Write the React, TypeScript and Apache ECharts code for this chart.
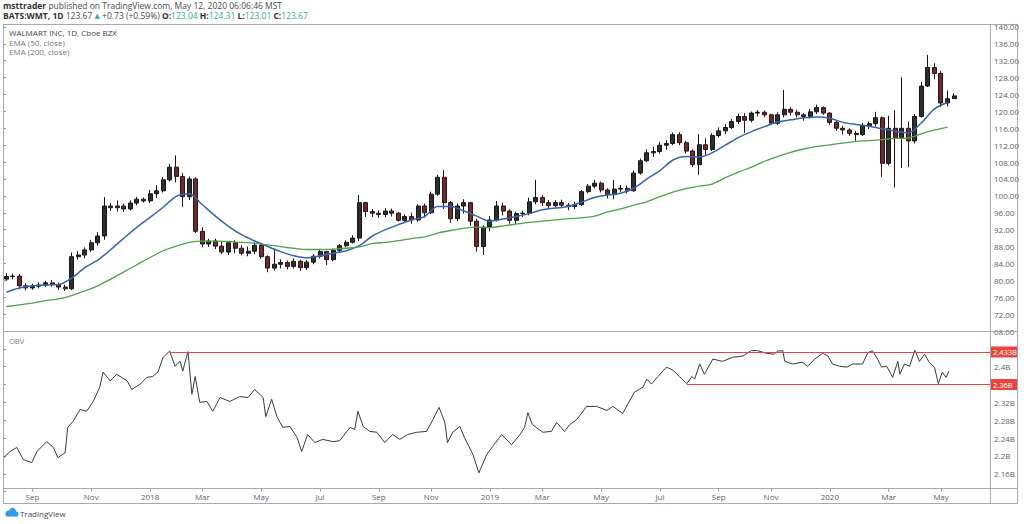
import React, { useEffect, useRef } from "react";
import * as echarts from "echarts";

const FONT = '"Open Sans", "Noto Sans", "DejaVu Sans", sans-serif';

// ---- categories: weekly bars starting Monday 2017-07-31 (146 bars + right padding)
const FIRST_MONDAY = "2017-07-31";
const WEEK_SLOTS = 151;
const MONTHS = ["Jan", "Feb", "Mar", "Apr", "May", "Jun", "Jul", "Aug", "Sep", "Oct", "Nov", "Dec"];

// ---- weekly OHLC, [open, close, low, high]
const ohlc2017 = [
  [80.3, 80.9, 79.9, 81.7], [80.9, 81.0, 80.2, 81.6], [81.0, 78.7, 77.9, 81.5], [78.7, 78.2, 77.6, 79.4],
  [78.2, 78.6, 77.8, 79.2], [78.6, 78.9, 78.1, 79.5], [78.9, 79.4, 78.4, 79.9], [79.4, 79.0, 78.5, 80.0],
  [79.0, 78.4, 77.7, 79.5], [78.4, 78.0, 77.5, 79.0], [78.0, 85.6, 77.7, 86.6], [85.6, 86.0, 84.9, 86.9],
  [86.0, 87.2, 85.2, 87.8], [87.2, 88.9, 86.8, 89.6], [88.9, 90.5, 88.2, 91.4], [90.5, 97.6, 89.6, 99.7],
  [97.6, 97.2, 96.4, 98.3], [97.2, 97.6, 96.3, 98.9], [97.6, 96.9, 96.2, 98.2], [96.9, 98.3, 96.5, 98.9],
  [98.3, 99.2, 97.8, 99.8], [99.2, 98.8, 98.4, 99.6],
];
const ohlc2018 = [
  [98.8, 100.5, 98.3, 101.4], [100.5, 101.2, 99.5, 102.5], [101.2, 103.8, 100.8, 104.5], [103.8, 106.8, 103.4, 107.6],
  [106.8, 104.6, 103.2, 109.6], [104.6, 99.8, 97.4, 105.4], [99.8, 104.0, 99.0, 104.6], [104.0, 91.6, 91.2, 104.4],
  [91.6, 88.6, 87.8, 92.6], [88.6, 89.3, 87.9, 89.8], [89.3, 88.1, 87.4, 89.9], [88.1, 86.7, 86.2, 89.3],
  [86.7, 88.9, 86.0, 89.2], [88.9, 87.6, 86.4, 89.5], [87.6, 86.4, 85.9, 88.3], [86.4, 86.9, 85.7, 88.0],
  [86.9, 88.3, 86.2, 88.9], [88.3, 85.6, 85.1, 88.8], [85.6, 82.9, 81.9, 85.9], [82.9, 83.8, 82.3, 87.5],
  [83.8, 84.2, 82.8, 85.0], [84.2, 83.3, 82.6, 84.7], [83.3, 84.5, 82.8, 85.2], [84.5, 83.0, 82.2, 84.9],
  [83.0, 84.3, 82.4, 84.8], [84.3, 85.7, 83.8, 86.2], [85.7, 86.8, 85.2, 87.3], [86.8, 84.9, 83.6, 87.0],
  [84.9, 87.1, 84.5, 87.5], [87.1, 88.2, 86.7, 88.6], [88.2, 89.0, 87.8, 89.5], [89.0, 90.0, 88.7, 90.7],
  [90.0, 98.4, 89.3, 100.2], [98.4, 96.3, 95.0, 98.6], [96.3, 95.9, 95.0, 96.9], [95.9, 95.6, 94.8, 96.6],
  [95.6, 96.4, 95.0, 97.1], [96.4, 95.9, 95.1, 97.0], [95.9, 94.2, 93.9, 96.2], [94.2, 95.1, 93.8, 95.6],
  [95.1, 94.3, 93.4, 96.0], [94.3, 97.6, 93.9, 98.0], [97.6, 96.0, 94.8, 98.2], [96.0, 100.4, 95.7, 101.0],
  [100.4, 104.4, 100.0, 105.0], [104.4, 98.4, 96.9, 106.1], [98.4, 94.6, 93.6, 98.8], [94.6, 97.6, 94.0, 98.2],
  [97.6, 98.4, 95.8, 99.2], [98.4, 94.0, 92.9, 98.6], [94.0, 88.0, 86.8, 94.6], [88.0, 92.6, 86.0, 93.0],
  [92.6, 94.3, 91.6, 95.2],
];
const ohlc2019 = [
  [94.3, 97.6, 93.9, 98.8], [97.6, 96.4, 95.4, 98.4], [96.4, 94.2, 93.4, 96.8], [94.2, 95.8, 93.3, 96.3],
  [95.8, 95.9, 95.0, 96.5], [95.9, 98.6, 95.4, 99.6], [98.6, 99.6, 98.0, 103.8], [99.6, 98.4, 97.6, 100.2],
  [98.4, 97.7, 97.0, 99.0], [97.7, 98.4, 97.3, 99.0], [98.4, 97.8, 97.2, 99.1], [97.8, 97.5, 96.6, 98.3],
  [97.5, 97.9, 96.8, 98.6], [97.9, 101.0, 97.6, 101.4], [101.0, 102.3, 100.6, 102.8], [102.3, 103.0, 101.8, 103.8],
  [103.0, 101.4, 100.8, 103.4], [101.4, 100.3, 99.4, 101.8], [100.3, 101.6, 99.2, 103.8], [101.6, 101.8, 100.9, 102.6],
  [101.8, 101.2, 100.6, 102.5], [101.2, 105.4, 101.0, 106.0], [105.4, 108.3, 105.0, 108.8], [108.3, 110.2, 108.0, 111.0],
  [110.2, 110.5, 109.2, 111.6], [110.5, 112.0, 110.0, 112.8], [112.0, 112.4, 110.9, 113.2], [112.4, 114.5, 112.0, 115.0],
  [114.5, 112.6, 112.0, 115.1], [112.6, 110.6, 110.0, 113.0], [110.6, 107.4, 106.8, 111.0], [107.4, 112.1, 105.0, 114.6],
  [112.1, 111.0, 109.6, 113.6], [111.0, 114.3, 110.6, 114.8], [114.3, 115.4, 113.8, 116.2], [115.4, 116.2, 114.6, 117.0],
  [116.2, 117.6, 115.8, 118.2], [117.6, 118.8, 117.0, 119.5], [118.8, 117.9, 114.9, 119.6], [117.9, 119.6, 117.4, 120.0],
  [119.6, 119.8, 118.8, 120.3], [119.8, 119.2, 118.6, 120.2], [119.2, 117.2, 116.8, 119.5], [117.2, 119.2, 116.8, 119.8],
  [119.2, 120.5, 118.6, 125.1], [120.5, 119.8, 119.0, 121.0], [119.8, 119.2, 118.6, 120.3], [119.2, 118.8, 117.8, 119.6],
  [118.8, 119.9, 118.3, 120.6], [119.9, 120.9, 119.4, 121.6], [120.9, 119.6, 119.2, 121.2], [119.6, 117.4, 116.8, 119.8],
];
const ohlc2020 = [
  [117.4, 116.0, 115.4, 118.0], [116.0, 115.6, 114.5, 116.6], [115.6, 114.8, 114.2, 116.0], [114.8, 114.5, 112.8, 115.4],
  [114.5, 116.6, 114.2, 117.3], [116.6, 117.1, 115.8, 117.6], [117.1, 118.5, 116.4, 119.9], [118.5, 107.7, 104.5, 118.8],
  [107.7, 116.0, 107.2, 119.0], [116.0, 113.6, 102.0, 120.3], [113.6, 116.0, 106.6, 128.1], [116.0, 113.0, 106.8, 117.6],
  [113.0, 118.8, 112.4, 119.4], [118.8, 126.0, 118.5, 127.0], [126.0, 130.4, 125.8, 133.4], [130.4, 129.0, 127.6, 131.4],
  [129.0, 122.0, 121.0, 129.6], [122.0, 123.0, 121.2, 125.0], [123.04, 123.67, 123.01, 124.31],
];

// ---- moving averages read every 2nd week (week 0, 2, 4, ...)
const EMA_STEP = 2;
const ema50 = [
  77.2, 78.2, 78.7, 78.9, 79.0, 80.5, 83.0, 84.8, 87.3, 90.0, 92.6, 94.9, 97.3, 99.9, 100.5, 97.9,
  95.2, 92.8, 90.8, 89.3, 88.0, 86.8, 85.8, 85.3, 85.8, 86.4, 87.0, 88.2, 90.5, 92.0, 93.2, 94.3,
  95.1, 97.5, 97.5, 96.4, 95.2, 94.0, 94.5, 95.1, 95.8, 96.7, 97.1, 97.5, 98.5, 99.6, 100.2, 100.6,
  101.8, 104.0, 106.0, 108.5, 109.3, 109.2, 110.2, 112.0, 113.8, 115.2, 116.4, 117.5, 118.0, 118.5,
  118.7, 118.4, 117.4, 116.9, 116.5, 115.9, 115.3, 114.9, 117.3, 120.6, 122.1,
];
const ema200 = [
  73.8, 74.2, 74.6, 75.2, 75.6, 76.4, 77.5, 78.7, 80.3, 82.0, 83.7, 85.4, 87.0, 88.1, 89.0, 89.3,
  89.3, 89.2, 89.0, 88.8, 88.4, 88.0, 87.6, 87.3, 87.3, 87.4, 87.6, 87.9, 88.7, 89.0, 89.4, 89.9,
  90.3, 91.2, 91.8, 92.3, 92.6, 92.5, 92.9, 93.3, 93.7, 94.0, 94.3, 94.6, 94.8, 95.2, 96.2, 96.9,
  97.8, 98.6, 99.8, 100.9, 101.7, 102.3, 102.8, 104.3, 105.6, 106.8, 108.2, 109.3, 110.3, 111.1,
  111.7, 112.1, 112.5, 112.9, 113.1, 113.3, 113.6, 113.7, 114.7, 115.6, 116.3,
];

// ---- OBV in billions, [week offset from first Monday, value]
const obv2017_18 = [
  [0.0, 2.195], [1.1, 2.21], [2.1, 2.219], [3.1, 2.192], [4.4, 2.185], [5.2, 2.21], [6.7, 2.232], [7.7, 2.219],
  [8.4, 2.196], [9.5, 2.207], [9.9, 2.264], [10.7, 2.277], [11.8, 2.304], [12.8, 2.3], [13.8, 2.322], [14.8, 2.354],
  [15.3, 2.388], [16.4, 2.368], [17.4, 2.383], [19.0, 2.368], [19.7, 2.349], [21.0, 2.361], [22.0, 2.376], [22.9, 2.378],
  [23.7, 2.388], [24.5, 2.421], [25.5, 2.435], [26.3, 2.401], [27.1, 2.412], [27.5, 2.39], [28.3, 2.434], [28.9, 2.338],
  [29.4, 2.378], [30.1, 2.32], [31.2, 2.322], [32.1, 2.3], [33.2, 2.331], [34.7, 2.322], [36.2, 2.333], [37.5, 2.331],
  [38.5, 2.349], [39.8, 2.331], [40.2, 2.288], [41.1, 2.327], [41.9, 2.288], [42.8, 2.264], [43.9, 2.266], [45.0, 2.241],
  [45.7, 2.21], [46.6, 2.248], [47.7, 2.23], [48.9, 2.237], [50.5, 2.232], [51.5, 2.234], [53.1, 2.264], [53.8, 2.259],
  [54.3, 2.3], [55.1, 2.266], [56.1, 2.255], [57.2, 2.253], [58.4, 2.23], [59.6, 2.248], [60.7, 2.237], [61.9, 2.248],
  [63.3, 2.253], [64.8, 2.255], [65.8, 2.282], [66.7, 2.309], [67.6, 2.275], [68.0, 2.23], [68.8, 2.253], [69.9, 2.266],
  [70.6, 2.241], [71.9, 2.203], [72.8, 2.162], [74.0, 2.203],
];
const obv2019_20 = [
  [74.9, 2.221], [76.3, 2.248], [77.8, 2.225], [79.1, 2.248], [79.8, 2.264], [80.3, 2.297], [81.0, 2.27], [82.6, 2.253],
  [83.9, 2.255], [84.7, 2.275], [85.9, 2.255], [86.7, 2.27], [87.8, 2.282], [89.3, 2.311], [90.8, 2.311], [92.4, 2.302],
  [93.3, 2.311], [94.8, 2.295], [96.6, 2.343], [97.9, 2.354], [98.5, 2.372], [99.2, 2.361], [100.2, 2.378], [101.5, 2.399],
  [102.5, 2.392], [103.5, 2.378], [104.6, 2.362], [105.4, 2.378], [105.8, 2.372], [106.6, 2.406], [107.3, 2.383], [108.6, 2.417],
  [110.1, 2.412], [111.6, 2.421], [113.2, 2.424], [114.5, 2.436], [115.4, 2.436], [116.8, 2.43], [118.0, 2.428], [118.5, 2.435],
  [119.3, 2.436], [119.6, 2.412], [120.8, 2.406], [122.3, 2.41], [123.1, 2.401], [124.2, 2.417], [125.4, 2.43], [126.2, 2.424],
  [126.9, 2.406], [128.0, 2.401], [129.1, 2.399], [130.0, 2.406], [131.5, 2.406], [132.3, 2.431], [133.0, 2.436], [133.8, 2.417],
  [134.4, 2.399], [135.2, 2.401], [135.6, 2.39], [136.1, 2.376], [136.9, 2.412], [137.2, 2.383], [137.9, 2.406], [138.7, 2.401],
  [139.5, 2.437], [140.2, 2.412], [141.0, 2.428], [141.7, 2.41], [142.5, 2.399], [143.1, 2.362], [143.7, 2.388], [144.3, 2.376],
  [144.7, 2.39],
];
const obvLevels = [
  { name: "2.433B", value: 2.433, fromWeek: 25.5 },
  { name: "2.36B", value: 2.36, fromWeek: 104.6 },
];

// ---- axis scales
const PRICE_MIN = 68;
const PRICE_MAX = 140.7;
const PRICE_STEP = 4;
const OBV_MIN = 2.12;
const OBV_MAX = 2.48;
const OBV_STEP = 0.04;
const OBV_SHOWN_LABELS = [2.16, 2.2, 2.24, 2.28, 2.32, 2.4];

const DAY = 86400000;
const T0 = Date.parse(FIRST_MONDAY + "T00:00:00Z");
const weekCategories = Array.from({ length: WEEK_SLOTS }, (_, i) =>
  new Date(T0 + i * 7 * DAY).toISOString().slice(0, 10)
);

function weekLabel(i: number): string {
  const fri = new Date(T0 + (i * 7 + 4) * DAY);
  const prevFri = new Date(T0 + (i * 7 - 3) * DAY);
  const m = fri.getUTCMonth();
  if (m === prevFri.getUTCMonth() || m % 2 !== 0) return "";
  return m === 0 ? String(fri.getUTCFullYear()) : MONTHS[m];
}

const FRAME = "#a7a9b0";
const LABEL = "#5d606b";
const RED = "#e8453c";

function buildOption(): any {
  const candles = [...ohlc2017, ...ohlc2018, ...ohlc2019, ...ohlc2020];
  const obv = [...obv2017_18, ...obv2019_20];
  const hline = (x1: number, x2: number, y: number) => ({
    type: "line", z: 50, silent: true,
    shape: { x1, y1: y, x2, y2: y }, style: { stroke: FRAME, lineWidth: 1 },
  });
  const vline = (x: number, y1: number, y2: number) => ({
    type: "line", z: 50, silent: true,
    shape: { x1: x, y1, x2: x, y2 }, style: { stroke: FRAME, lineWidth: 1 },
  });
  const txt = (x: number, y: number, text: string, size: number, fill: string, extra: any = {}) => ({
    type: "text", x, y, z: 100, silent: true,
    style: { text, fill, fontSize: size, fontFamily: FONT, verticalAlign: "middle", ...extra },
  });

  return {
    animation: false,
    backgroundColor: "#ffffff",
    textStyle: { fontFamily: FONT },
    grid: [
      { left: 3, right: 34, top: 24, height: 307, outerBoundsMode: "none", containLabel: false },
      { left: 3, right: 34, top: 331, height: 160.6, outerBoundsMode: "none", containLabel: false },
    ],
    xAxis: [
      { type: "category", gridIndex: 0, data: weekCategories, show: false },
      {
        type: "category", gridIndex: 1, data: weekCategories, position: "bottom",
        axisLine: { show: false },
        axisTick: {
          show: true, inside: true, length: 3, alignWithLabel: true,
          interval: (i: number) => weekLabel(i) !== "",
          lineStyle: { color: "#9a9ca3" },
        },
        axisLabel: {
          interval: (i: number) => weekLabel(i) !== "",
          formatter: (_v: string, i: number) => weekLabel(i),
          color: LABEL, fontSize: 8, fontFamily: FONT, margin: 1,
        },
        splitLine: { show: false },
      },
      { type: "value", gridIndex: 1, min: 0, max: WEEK_SLOTS, show: false, position: "top" },
      { type: "value", gridIndex: 0, min: 0, max: WEEK_SLOTS, show: false, position: "top" },
    ],
    yAxis: [
      {
        type: "value", gridIndex: 0, position: "right", min: PRICE_MIN, max: PRICE_MAX, interval: PRICE_STEP,
        axisLine: { show: false },
        axisTick: { show: true, length: 3, lineStyle: { color: "#9a9ca3" } },
        splitLine: { show: false },
        axisLabel: {
          color: LABEL, fontSize: 8, fontFamily: FONT, margin: 4,
          formatter: (v: number) => (Math.abs(v / PRICE_STEP - Math.round(v / PRICE_STEP)) < 1e-6 ? v.toFixed(2) : ""),
        },
      },
      {
        type: "value", gridIndex: 1, position: "right", min: OBV_MIN, max: OBV_MAX, interval: OBV_STEP,
        axisLine: { show: false },
        axisTick: { show: true, length: 3, lineStyle: { color: "#9a9ca3" } },
        splitLine: { show: false },
        axisLabel: {
          color: LABEL, fontSize: 8, fontFamily: FONT, margin: 4,
          formatter: (v: number) => {
            const hit = OBV_SHOWN_LABELS.find((s) => Math.abs(s - v) < 1e-6);
            return hit === undefined ? "" : `${hit}B`;
          },
        },
      },
    ],
    series: [
      {
        type: "candlestick", name: "WMT", xAxisIndex: 0, yAxisIndex: 0,
        data: candles, barWidth: 4.5,
        itemStyle: {
          color: "#2e2e2e", color0: "#6a2c2c",
          borderColor: "#161616", borderColor0: "#2c1414", borderWidth: 1,
        },
      },
      {
        type: "line", name: "EMA (50, close)", xAxisIndex: 3, yAxisIndex: 0,
        data: ema50.map((v, k) => [k * EMA_STEP + 0.5, v]),
        showSymbol: false, smooth: 0.3, silent: true,
        lineStyle: { color: "#3565ad", width: 1.5 },
      },
      {
        type: "line", name: "EMA (200, close)", xAxisIndex: 3, yAxisIndex: 0,
        data: ema200.map((v, k) => [k * EMA_STEP + 0.5, v]),
        showSymbol: false, smooth: 0.3, silent: true,
        lineStyle: { color: "#4fa24a", width: 1.3 },
      },
      {
        type: "line", name: "OBV", xAxisIndex: 2, yAxisIndex: 1, data: obv,
        showSymbol: false, silent: true, clip: false,
        lineStyle: { color: "#3a3a3a", width: 1 },
        markLine: {
          silent: true, symbol: ["none", "none"], animation: false,
          lineStyle: { color: RED, width: 1, type: "solid" },
          label: {
            show: true, position: "end", distance: 1, formatter: "{b}",
            color: "#ffffff", backgroundColor: RED, fontSize: 7.5, fontFamily: FONT,
            padding: [2, 1, 1, 2], width: 23, overflow: "none", align: "left",
          },
          data: obvLevels.map((l) => [
            { name: l.name, coord: [l.fromWeek, l.value] },
            { coord: [WEEK_SLOTS, l.value] },
          ]),
        },
      },
    ],
    graphic: [
      // frame
      hline(3, 1017, 24.5), hline(3, 1017, 331.5), hline(3, 1017, 488.5), hline(3, 1017, 503.5),
      vline(3.5, 24, 504), vline(990.5, 24, 504), vline(1017.5, 24, 504),
      // header
      txt(3, 5, "{b|msttrader} published on TradingView.com, May 12, 2020 06:06:46 MST", 8.5, "#4a4a4a", {
        rich: { b: { fontWeight: "bold", fill: "#333333", fontSize: 8.5, fontFamily: FONT } },
      }),
      txt(3, 15.5,
        "{b|BATS:WMT, 1D} 123.67 {g|▲} +0.73 (+0.59%) {b|O:}{v|123.04} {b|H:}{v|124.31} {b|L:}{v|123.01} {b|C:}{v|123.67}",
        8.5, "#4a4a4a", {
          rich: {
            b: { fontWeight: "bold", fill: "#333333", fontSize: 8.5, fontFamily: FONT },
            v: { fill: "#3ba99c", fontSize: 8.5, fontFamily: FONT },
            g: { fill: "#3ba99c", fontSize: 7, fontFamily: FONT },
          },
        }),
      // pane legends
      txt(9, 32.5, "WALMART INC, 1D, Cboe BZX", 8, "#444444"),
      txt(9, 42, "EMA (50, close)", 8, "#777777"),
      txt(9, 51.5, "EMA (200, close)", 8, "#777777"),
      txt(9, 341, "OBV", 7.5, "#777777"),
      // TradingView logo
      { type: "circle", z: 100, silent: true, shape: { cx: 8.5, cy: 513.5, r: 3 }, style: { fill: "#2e9bef" } },
      { type: "circle", z: 100, silent: true, shape: { cx: 12.5, cy: 511.5, r: 3.6 }, style: { fill: "#2e9bef" } },
      { type: "circle", z: 100, silent: true, shape: { cx: 16, cy: 514, r: 2.5 }, style: { fill: "#2e9bef" } },
      { type: "rect", z: 100, silent: true, shape: { x: 5.5, y: 513, width: 12.5, height: 3.6, r: 1.5 }, style: { fill: "#2e9bef" } },
      txt(20, 513.5, "TradingView", 8, "#4a4a4a"),
    ],
  };
}

export default function App() {
  const ref = useRef<HTMLDivElement>(null);
  useEffect(() => {
    if (!ref.current) return;
    const chart = echarts.init(ref.current, null, { renderer: "svg" });
    chart.setOption(buildOption());
    return () => chart.dispose();
  }, []);
  return (
    <div
      ref={ref}
      style={{ position: "fixed", left: 0, top: 0, width: 1024, height: 524, background: "#ffffff" }}
    />
  );
}
